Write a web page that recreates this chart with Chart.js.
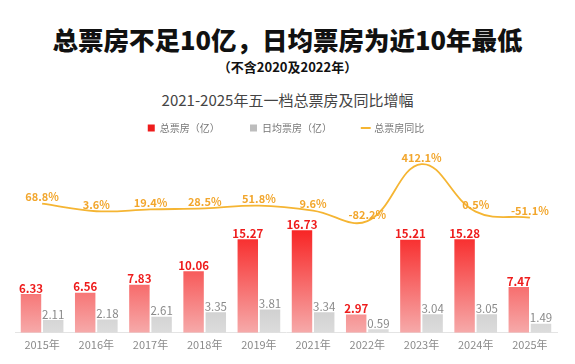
<!DOCTYPE html>
<html>
<head>
<meta charset="utf-8">
<script src="https://cdn.jsdelivr.net/npm/chart.js@4.4.0/dist/chart.umd.min.js"></script>
<style>
    body { margin: 0; background: #fff; font-family: "Noto Sans CJK SC", "Noto Sans", sans-serif; }
    .wrap { width: 575px; height: 364px; position: relative; overflow: hidden; }
    .t1 { position: absolute; top: 22px; left: 0; width: 575px; text-align: center; font-size: 25.5px; font-weight: 900; color: #111; line-height: 34px; }
    .t2 { position: absolute; top: 58px; left: 0; width: 575px; text-align: center; font-size: 13px; font-weight: 700; color: #111; line-height: 18px; }
    .t3 { position: absolute; top: 89px; left: 0; width: 575px; text-align: center; font-size: 15px; color: #444; line-height: 22px; }
    #chart { position: absolute; top: 115px; left: 0; }
</style>
</head>
<body>
<div class="wrap">
    <div class="t1">总票房不足10亿，日均票房为近10年最低</div>
    <div class="t2">（不含2020及2022年）</div>
    <div class="t3">2021-2025年五一档总票房及同比增幅</div>
    <canvas id="chart" width="575" height="249"></canvas>
</div>
<script>
// adatok
const evek = ['2015年', '2016年', '2017年', '2018年', '2019年', '2021年', '2022年', '2023年', '2024年', '2025年'];
const osszBevetel = [6.33, 6.56, 7.83, 10.06, 15.27, 16.73, 2.97, 15.21, 15.28, 7.47];
const napiBevetel = [2.11, 2.18, 2.61, 3.35, 3.81, 3.34, 0.59, 3.04, 3.05, 1.49];
const novekedes = [68.8, 3.6, 19.4, 28.5, 51.8, 9.6, -82.2, 412.1, 0.5, -51.1];

const piros = '#ee1c1c';
const narancs = '#f5b533';

function gradiens(ctx, felso, also) {
    const chart = ctx.chart;
    const area = chart.chartArea;
    if (!area) return felso;
    const meta = chart.getDatasetMeta(ctx.datasetIndex);
    const bar = meta.data[ctx.dataIndex];
    const top = bar && isFinite(bar.y) ? bar.y : area.top;
    const g = chart.ctx.createLinearGradient(0, top, 0, area.bottom);
    g.addColorStop(0, felso);
    g.addColorStop(0.35, felso);
    g.addColorStop(1, also);
    return g;
}

// címkék kirajzolása
const cimkek = {
    id: 'cimkek',
    afterDatasetsDraw(chart) {
        const c = chart.ctx;
        c.save();
        c.textAlign = 'center';
        c.textBaseline = 'bottom';
        chart.data.datasets.forEach((ds, i) => {
            const meta = chart.getDatasetMeta(i);
            meta.data.forEach((el, j) => {
                const v = ds.data[j];
                if (ds.type === 'line') {
                    c.font = '600 11px "Noto Sans CJK SC", sans-serif';
                    c.fillStyle = '#f2a62c';
                    c.fillText(v.toFixed(1) + '%', el.x, el.y - 1);
                } else if (i === 0) {
                    c.font = 'bold 11.5px "Noto Sans CJK SC", sans-serif';
                    c.fillStyle = piros;
                    c.fillText(v.toFixed(2), el.x, el.y);
                } else {
                    c.font = '11.5px "Noto Sans CJK SC", sans-serif';
                    c.fillStyle = '#8a8a8a';
                    c.fillText(v.toFixed(2), el.x, el.y);
                }
            });
        });
        c.restore();
    }
};

new Chart(document.getElementById('chart'), {
    type: 'bar',
    data: {
        labels: evek,
        datasets: [
            {
                label: '总票房（亿）',
                data: osszBevetel,
                backgroundColor: ctx => gradiens(ctx, '#f80a0a', '#f6aaaa'),
                yAxisID: 'y',
                order: 2
            },
            {
                label: '日均票房（亿）',
                data: napiBevetel,
                backgroundColor: ctx => gradiens(ctx, '#a0a0a0', '#dcdcdc'),
                yAxisID: 'y',
                order: 2
            },
            {
                type: 'line',
                label: '总票房同比',
                data: novekedes,
                borderColor: narancs,
                borderWidth: 1.8,
                tension: 0.4,
                pointRadius: 0,
                yAxisID: 'y1',
                order: 1
            }
        ]
    },
    options: {
        responsive: false,
        animation: false,
        layout: { padding: { left: 15, right: 18, bottom: 8, top: 0 } },
        datasets: {
            bar: { categoryPercentage: 0.82, barPercentage: 0.92 }
        },
        plugins: {
            legend: {
                position: 'top',
                labels: {
                    usePointStyle: true,
                    boxWidth: 7,
                    boxHeight: 7,
                    padding: 8,
                    color: '#777',
                    font: { size: 10, family: '"Noto Sans CJK SC", sans-serif' },
                    generateLabels: function(chart) {
                        // szóközök a tételek közti távolsághoz
                        const sp = '\u3000\u3000\u2002 ';
                        return [
                            { text: '总票房（亿）' + sp, fillStyle: piros, strokeStyle: piros, pointStyle: 'rect', lineWidth: 0, datasetIndex: 0, fontColor: '#777' },
                            { text: '日均票房（亿）' + sp, fillStyle: '#bdbdbd', strokeStyle: '#bdbdbd', pointStyle: 'rect', lineWidth: 0, datasetIndex: 1, fontColor: '#777' },
                            { text: '总票房同比', fillStyle: narancs, strokeStyle: narancs, pointStyle: 'line', lineWidth: 2, datasetIndex: 2, fontColor: '#777' }
                        ];
                    }
                }
            },
            tooltip: { enabled: false }
        },
        scales: {
            x: {
                grid: { display: false, drawTicks: false },
                border: { display: true, color: '#e4e4e4' },
                ticks: {
                    color: '#8a8a8a',
                    padding: 5,
                    font: { size: 11, family: '"Noto Sans CJK SC", sans-serif' }
                }
            },
            y: {
                display: false,
                min: 0,
                max: 31
            },
            y1: {
                display: false,
                min: -1050,
                max: 595
            }
        }
    },
    plugins: [cimkek]
});
</script>
</body>
</html>
